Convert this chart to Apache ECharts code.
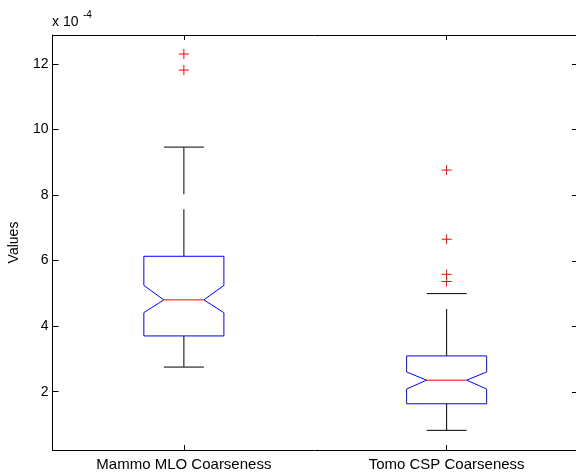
<!DOCTYPE html>
<html>
<head>
<meta charset="utf-8">
<script src="https://cdn.jsdelivr.net/npm/echarts@6/dist/echarts.min.js"></script>
<style>
  html, body { margin: 0; padding: 0; background: #fff; }
  #chart { width: 576px; height: 475px; }
</style>
</head>
<body>
<div id="chart"></div>
<script>
// Coarseness distributions, values in units of 1e-4
const categories = ['Mammo MLO Coarseness', 'Tomo CSP Coarseness'];
const lowerWhisker = [2.75, 0.82];
const q1 = [3.70, 1.63];
const medians = [4.80, 2.35];
const q3 = [6.13, 3.09];
const upperWhisker = [9.46, 4.99];
const notchLow = [4.41, 2.08];
const notchHigh = [5.24, 2.60];
const outliers = [
  [12.30, 11.81],
  [8.76, 6.65, 5.58, 5.36]
];
const yTicks = [2, 4, 6, 8, 10, 12];
const yMin = 0.22;
const yMax = 12.88;

const FONT = 'Liberation Sans, Arial, Helvetica, sans-serif';

const boxData = categories.map((c, i) => [
  i, lowerWhisker[i], q1[i], medians[i], q3[i], upperWhisker[i], notchLow[i], notchHigh[i]
]);
const outlierData = [];
outliers.forEach((vals, i) => vals.forEach(v => outlierData.push([i, v])));
const rightTickData = yTicks.map(v => [categories.length - 1, v]);

function renderBox(params, api) {
  const i = api.value(0);
  const band = api.size([1, 0])[0];
  const half = band * 0.1523;      // half box width
  const notchHalf = half * 0.5;    // half width at the median
  const capHalf = half * 0.5;      // half whisker cap width
  const cx = api.coord([i, 0])[0];
  const y = k => api.coord([i, api.value(k)])[1];
  const yLw = y(1), yQ1 = y(2), yMed = y(3), yQ3 = y(4), yUw = y(5), yNlo = y(6), yNhi = y(7);
  const L = cx - half, R = cx + half;
  const whiskerStyle = { stroke: '#000', lineWidth: 1, lineDash: [47, 15], fill: null };
  const solid = { stroke: '#000', lineWidth: 1, fill: null };
  return {
    type: 'group',
    children: [
      { type: 'line', shape: { x1: cx, y1: yQ3, x2: cx, y2: yUw }, style: whiskerStyle },
      { type: 'line', shape: { x1: cx, y1: yQ1, x2: cx, y2: yLw }, style: whiskerStyle },
      { type: 'line', shape: { x1: cx - capHalf, y1: yUw, x2: cx + capHalf, y2: yUw }, style: solid },
      { type: 'line', shape: { x1: cx - capHalf, y1: yLw, x2: cx + capHalf, y2: yLw }, style: solid },
      {
        type: 'polygon',
        shape: {
          points: [
            [L, yQ3], [R, yQ3], [R, yNhi], [cx + notchHalf, yMed], [R, yNlo],
            [R, yQ1], [L, yQ1], [L, yNlo], [cx - notchHalf, yMed], [L, yNhi]
          ]
        },
        style: { stroke: '#0000ff', lineWidth: 1, fill: null }
      },
      { type: 'line', shape: { x1: cx - notchHalf, y1: yMed, x2: cx + notchHalf, y2: yMed },
        style: { stroke: '#ff0000', lineWidth: 1, fill: null } }
    ]
  };
}

function renderOutlier(params, api) {
  const p = api.coord([api.value(0), api.value(1)]);
  const s = 5;
  const st = { stroke: '#ff0000', lineWidth: 1, fill: null };
  return {
    type: 'group',
    children: [
      { type: 'line', shape: { x1: p[0] - s, y1: p[1], x2: p[0] + s, y2: p[1] }, style: st },
      { type: 'line', shape: { x1: p[0], y1: p[1] - s, x2: p[0], y2: p[1] + s }, style: st }
    ]
  };
}

// Inward ticks along the right edge of the plot box
function renderRightTick(params, api) {
  const p = api.coord([api.value(0), api.value(1)]);
  const edge = p[0] + api.size([1, 0])[0] / 2;
  const yy = Math.round(p[1]) + 0.5;
  return {
    type: 'line',
    shape: { x1: edge - 6, y1: yy, x2: edge, y2: yy },
    style: { stroke: '#000', lineWidth: 1 }
  };
}

const axisLine = { show: true, lineStyle: { color: '#000', width: 1 } };

const chart = echarts.init(document.getElementById('chart'), null, { renderer: 'canvas' });
chart.setOption({
  animation: false,
  backgroundColor: '#fff',
  grid: { left: 52.5, top: 35, width: 525.5, height: 415, containLabel: false, outerBoundsMode: 'none' },
  xAxis: [
    {
      type: 'category', data: categories, position: 'bottom', boundaryGap: true,
      axisLine: axisLine,
      axisTick: { show: true, inside: true, alignWithLabel: true, length: 5, lineStyle: { color: '#000' } },
      axisLabel: { color: '#000', fontFamily: FONT, fontSize: 15, margin: 7 },
      splitLine: { show: false }
    },
    {
      type: 'category', data: categories, position: 'top', boundaryGap: true,
      axisLine: axisLine,
      axisTick: { show: true, inside: true, alignWithLabel: true, length: 5, lineStyle: { color: '#000' } },
      axisLabel: { show: false },
      splitLine: { show: false }
    }
  ],
  yAxis: [
    {
      type: 'value', min: yMin, max: yMax, splitNumber: 6, position: 'left',
      name: 'Values', nameLocation: 'middle', nameGap: 31,
      nameTextStyle: { color: '#000', fontFamily: FONT, fontSize: 14 },
      axisLine: axisLine,
      axisTick: { show: true, inside: true, length: 6, lineStyle: { color: '#000' } },
      axisLabel: { color: '#000', fontFamily: FONT, fontSize: 14, margin: 4, showMinLabel: false, showMaxLabel: false },
      splitLine: { show: false }
    }
  ],
  graphic: [
    { type: 'text', left: 52, top: 15, style: { text: 'x 10', fill: '#000', font: '14px ' + FONT } },
    { type: 'text', left: 83, top: 10, style: { text: '-4', fill: '#000', font: '10px ' + FONT } }
  ],
  series: [
    {
      type: 'custom', xAxisIndex: 0, yAxisIndex: 0,
      renderItem: renderBox, data: boxData,
      encode: { x: 0, y: [1, 2, 3, 4, 5] }, clip: false
    },
    {
      type: 'custom', xAxisIndex: 0, yAxisIndex: 0,
      renderItem: renderOutlier, data: outlierData,
      encode: { x: 0, y: 1 }, clip: false
    },
    {
      type: 'custom', xAxisIndex: 0, yAxisIndex: 0, silent: true,
      renderItem: renderRightTick, data: rightTickData,
      encode: { x: 0, y: 1 }, clip: false
    }
  ]
});
</script>
</body>
</html>
